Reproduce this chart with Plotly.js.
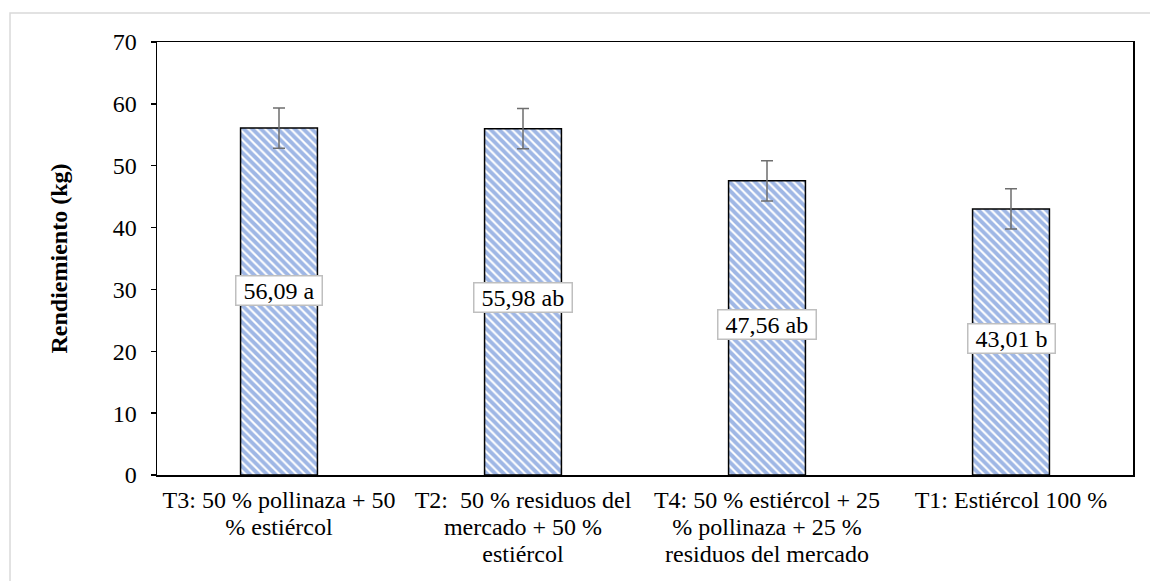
<!DOCTYPE html>
<html>
<head>
<meta charset="utf-8">
<script src="https://cdn.plot.ly/plotly-3.0.1.min.js"></script>
<style>
html,body{margin:0;padding:0;background:#fff;}
#chart{width:1150px;height:581px;}
</style>
</head>
<body>
<div id="chart"></div>
<script>
const categories = [
  "T3: 50 % pollinaza + 50<br>% estiércol",
  "T2:  50 % residuos del<br>mercado + 50 %<br>estiércol",
  "T4: 50 % estiércol + 25<br>% pollinaza + 25 %<br>residuos del mercado",
  "T1: Estiércol 100 %"
];
const values = [56.09, 55.98, 47.56, 43.01];
const errors = [3.25, 3.25, 3.25, 3.25];
const labels = ["56,09 a", "55,98 ab", "47,56 ab", "43,01 b"];
const labelY = [29.8, 28.7, 24.4, 22.0];
const yTicks = [0, 10, 20, 30, 40, 50, 60, 70];

const font = "Liberation Serif";

// x tick text: each line at 24px, line spacing from a 21px base (Excel-like 1.15 spacing)
const tickText = categories.map(c => c.split("<br>").map(l => '<span style="font-size:24px">' + l + '</span>').join("<br>"));

const trace = {
  type: "bar",
  x: categories,
  y: values,
  width: 0.315,
  marker: {
    color: "#ffffff",
    line: {color: "#000000", width: 1.5},
    pattern: {shape: "\\", fgcolor: "#3F6FCB", bgcolor: "#ffffff", size: 6, solidity: 0.65, fillmode: "overlay"}
  },
  error_y: {type: "data", array: errors, visible: true, color: "#6e6e6e", thickness: 1.5, width: 6},
  hoverinfo: "none"
};

const annotations = labels.map((t, i) => ({
  x: categories[i], y: labelY[i], xref: "x", yref: "y",
  text: "\u00a0" + t + "\u00a0", showarrow: false,
  font: {family: font, size: 24, color: "#000"},
  bgcolor: "#ffffff", bordercolor: "#bfbfbf", borderwidth: 1.5, borderpad: 1
}));

const layout = {
  width: 1150, height: 581,
  margin: {l: 157, r: 17, t: 42, b: 106},
  paper_bgcolor: "#ffffff",
  plot_bgcolor: "#ffffff",
  showlegend: false,
  font: {family: font, size: 21, color: "#000"},
  xaxis: {
    type: "category",
    tickvals: categories, ticktext: tickText,
    showline: true, linecolor: "#000", linewidth: 1.5, mirror: true,
    ticks: "", tickfont: {family: font, size: 21, color: "#000"},
    ticklabelstandoff: 6,
    showgrid: false, zeroline: false, fixedrange: true
  },
  yaxis: {
    range: [0, 70], tickvals: yTicks, ticktext: yTicks.map(String),
    showline: true, linecolor: "#000", linewidth: 1.5, mirror: true,
    ticks: "outside", ticklen: 5, tickcolor: "#000", tickwidth: 1.5,
    ticklabelstandoff: 9,
    showgrid: false, zeroline: false,
    tickfont: {family: font, size: 24, color: "#000"},
    title: {text: "<b>Rendiemiento (kg)</b>", font: {family: font, size: 24, color: "#000"}, standoff: 38}
  },
  annotations: annotations,
  shapes: [{
    type: "rect", xref: "paper", yref: "paper",
    x0: -0.1506, x1: 1.05, y0: -0.3, y1: 1.067,
    line: {color: "#d9d9d9", width: 1.5}, fillcolor: "rgba(0,0,0,0)", layer: "below"
  }]
};

Plotly.newPlot("chart", [trace], layout, {displayModeBar: false, staticPlot: true});
</script>
</body>
</html>
